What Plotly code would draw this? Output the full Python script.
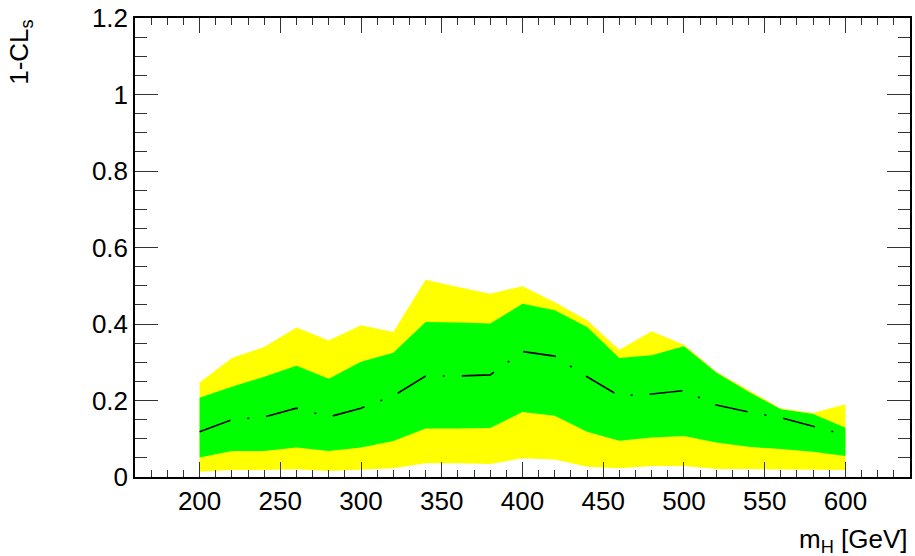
import plotly.graph_objects as go

mass = [200, 220, 240, 260, 280, 300, 320, 340, 360, 380, 400,
        420, 440, 460, 480, 500, 520, 540, 560, 580, 600]
yellow_hi = [0.247, 0.311, 0.340, 0.391, 0.357, 0.397, 0.379, 0.516, 0.497, 0.479, 0.499,
             0.457, 0.410, 0.333, 0.381, 0.346, 0.275, 0.227, 0.179, 0.167, 0.190]
green_hi = [0.207, 0.236, 0.262, 0.291, 0.257, 0.301, 0.325, 0.405, 0.404, 0.401, 0.453,
            0.436, 0.392, 0.311, 0.318, 0.342, 0.273, 0.223, 0.177, 0.165, 0.129]
median = [0.118, 0.150, 0.157, 0.180, 0.157, 0.180, 0.212, 0.264, 0.264, 0.267, 0.328,
          0.316, 0.262, 0.212, 0.217, 0.226, 0.188, 0.170, 0.155, 0.133, 0.110]
green_lo = [0.051, 0.068, 0.068, 0.077, 0.068, 0.077, 0.094, 0.127, 0.127, 0.128, 0.170,
            0.160, 0.118, 0.095, 0.103, 0.107, 0.090, 0.079, 0.073, 0.066, 0.055]
yellow_lo = [0.014, 0.018, 0.018, 0.020, 0.016, 0.020, 0.023, 0.036, 0.036, 0.034, 0.049,
             0.046, 0.027, 0.023, 0.029, 0.029, 0.021, 0.021, 0.020, 0.018, 0.018]

x_tickvals = [200, 250, 300, 350, 400, 450, 500, 550, 600]
y_tickvals = [0, 0.2, 0.4, 0.6, 0.8, 1.0, 1.2]

fig = go.Figure()
fig.add_trace(go.Scatter(x=mass, y=yellow_lo, mode="lines", line=dict(width=0, color="#ffff00"),
                         showlegend=False, hoverinfo="skip"))
fig.add_trace(go.Scatter(x=mass, y=yellow_hi, mode="lines", line=dict(width=0, color="#ffff00"),
                         fill="tonexty", fillcolor="#ffff00", showlegend=False))
fig.add_trace(go.Scatter(x=mass, y=green_lo, mode="lines", line=dict(width=0, color="#00ff00"),
                         showlegend=False, hoverinfo="skip"))
fig.add_trace(go.Scatter(x=mass, y=green_hi, mode="lines", line=dict(width=0, color="#00ff00"),
                         fill="tonexty", fillcolor="#00ff00", showlegend=False))
fig.add_trace(go.Scatter(x=mass, y=median, mode="lines",
                         line=dict(width=1.6, color="black", dash="33px,17px,2px,17px"),
                         showlegend=False))

font = "Liberation Sans, Arial, Helvetica, sans-serif"
fs = 26
fig.update_layout(
    width=915, height=556, autosize=False,
    margin=dict(l=135, r=3, t=17, b=79),
    paper_bgcolor="white", plot_bgcolor="white",
    font=dict(family=font, size=fs, color="black"),
    xaxis=dict(range=[160, 640], tickvals=x_tickvals, showgrid=False, zeroline=False,
               showline=True, linecolor="black", linewidth=1.5, mirror="allticks",
               ticks="inside", ticklen=15, tickwidth=1.2, tickcolor="#333",
               minor=dict(ticks="inside", ticklen=7, dtick=10, tick0=0, tickcolor="#333", tickwidth=1.2),
               tickfont=dict(size=fs, family=font)),
    yaxis=dict(range=[0, 1.2], tickvals=y_tickvals, showgrid=False, zeroline=False,
               showline=True, linecolor="black", linewidth=1.5, mirror="allticks",
               ticks="inside", ticklen=23, tickwidth=1.2, tickcolor="#333",
               minor=dict(ticks="inside", ticklen=12, dtick=0.05, tick0=0, tickcolor="#333", tickwidth=1.2),
               tickfont=dict(size=fs, family=font)),
    annotations=[
        dict(text="1-CL<sub>s</sub>", xref="paper", yref="paper", x=-0.148, y=1.0,
             xanchor="center", yanchor="top", textangle=-90, showarrow=False,
             font=dict(size=fs, family=font)),
        dict(text="m<sub>H</sub> [GeV]", xref="paper", yref="paper", x=1.0, y=-0.178,
             xanchor="right", yanchor="bottom", showarrow=False,
             font=dict(size=fs, family=font)),
    ],
)

fig.write_html("out.html", config={"displayModeBar": False},
               post_script="document.body.style.margin='0px';document.body.style.padding='0px';")
